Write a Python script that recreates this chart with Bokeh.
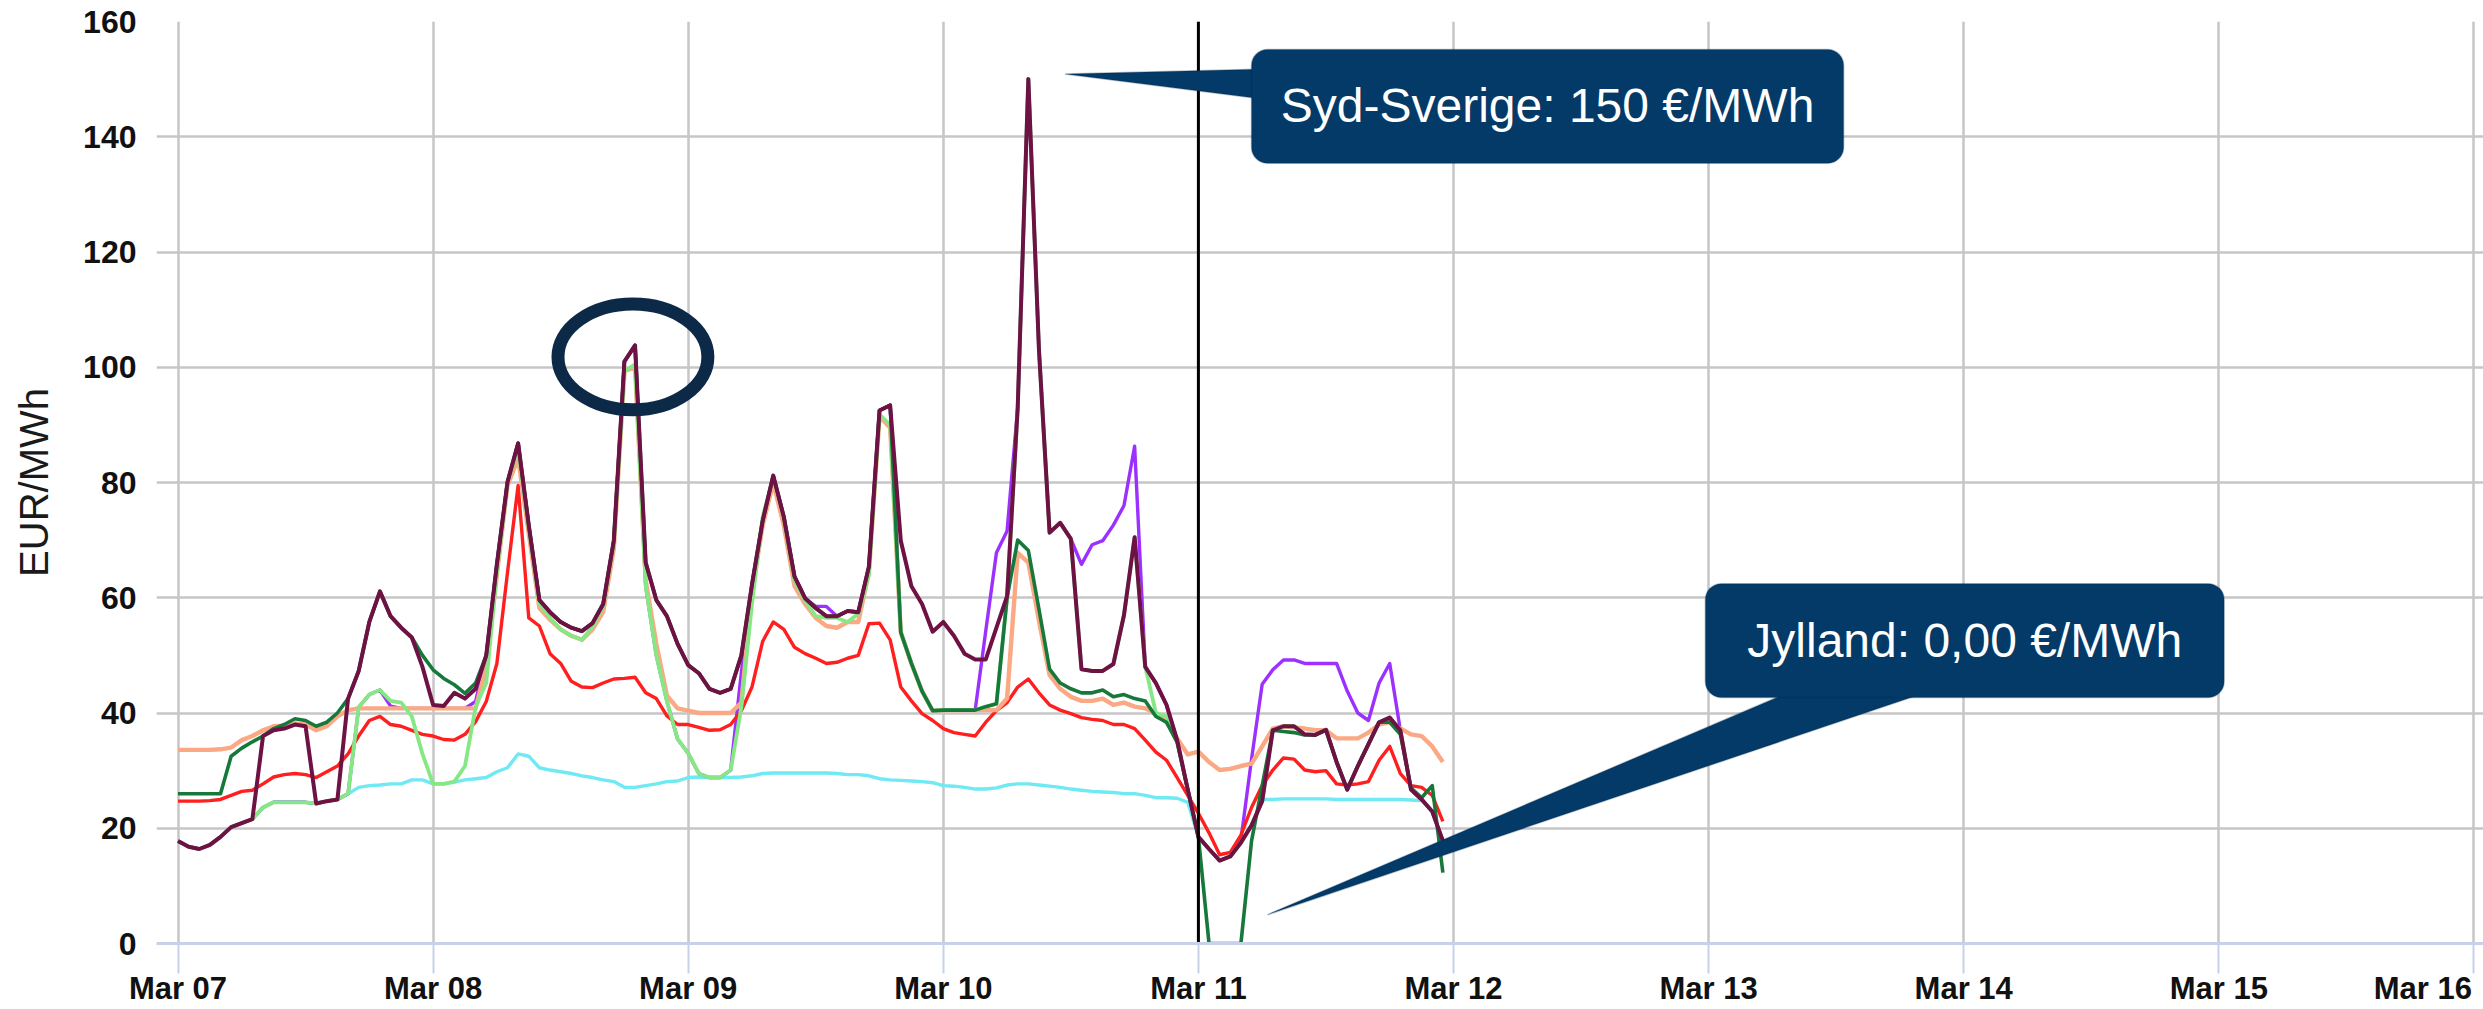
import numpy as np
import pandas as pd
from bokeh.plotting import figure
from bokeh.models import (Range1d, FixedTicker, CustomJSTickFormatter, BoxAnnotation,
                          PolyAnnotation, Label, ColumnDataSource)
from bokeh.embed import file_html
from bokeh.resources import INLINE

# ---------------- data (hourly, 2023-03-07 00:00 .. 2023-03-11 23:00) ----------------
START = "2023-03-07 00:00"
N_HOURS = 120

peach = [33.6, 33.6, 33.6, 33.6, 33.7, 34.0, 35.3, 36.0, 37.0, 37.7,
         37.8, 38.2, 38.0, 37.0, 37.7, 39.4, 40.5, 40.8, 40.8, 40.8,
         40.8, 40.8, 40.8, 40.8, 40.8, 40.8, 40.8, 40.8, 40.8, 48.0,
         64.0, 79.5, 84.2, 71.2, 58.2, 56.2, 54.5, 53.4, 52.7, 54.5,
         57.5, 68.5, 99.3, 100.0, 63.0, 52.0, 43.0, 40.8, 40.4, 40.0,
         40.0, 40.0, 40.0, 41.8, 61.0, 72.5, 80.0, 72.5, 62.0, 58.9,
         56.5, 55.1, 54.8, 55.8, 55.8, 64.4, 91.5, 89.5, 54.0, 48.6,
         43.8, 40.4, 40.5, 40.5, 40.5, 40.5, 40.5, 40.5, 42.5, 67.8,
         66.1, 56.0, 46.6, 44.2, 42.8, 42.1, 42.1, 42.5, 41.4, 41.8,
         41.1, 40.8, 40.0, 38.4, 35.6, 32.8, 33.3, 31.5, 30.1, 30.3,
         30.8, 31.2, 34.2, 37.3, 37.7, 37.5, 37.3, 37.0, 37.0, 35.6,
         35.6, 35.6, 36.6, 38.0, 38.4, 37.3, 36.3, 36.0, 34.2, 31.5]

jylland = [26.0, 26.0, 26.0, 26.0, 26.0, 32.5, 33.9, 35.0, 36.0, 37.3,
           38.0, 39.0, 38.7, 37.7, 38.4, 40.0, 42.5, 47.3, 55.8, 61.1,
           56.8, 54.8, 53.1, 50.0, 47.5, 46.0, 44.9, 43.4, 45.2, 50.0,
           65.8, 80.1, 86.8, 72.6, 59.6, 57.5, 55.8, 54.8, 54.2, 55.6,
           58.9, 69.9, 101.0, 103.8, 66.1, 59.6, 56.8, 52.0, 48.3, 46.9,
           44.2, 43.5, 44.2, 50.0, 62.3, 73.3, 81.2, 74.0, 63.7, 59.9,
           58.2, 56.8, 56.8, 57.7, 57.5, 65.4, 92.5, 93.4, 54.0, 48.6,
           43.8, 40.4, 40.5, 40.5, 40.5, 40.5, 41.1, 41.6, 60.0, 70.0,
           68.2, 58.0, 47.6, 45.2, 44.2, 43.5, 43.5, 44.0, 42.8, 43.2,
           42.5, 42.1, 39.4, 38.4, 34.9, 26.7, 18.5, 0.0, 0.0, 0.0,
           0.0, 17.8, 27.4, 37.0, 36.8, 36.6, 36.2, 36.2, 37.0, 31.5,
           26.7, 30.8, 34.6, 38.4, 38.4, 36.3, 27.0, 25.3, 27.4, 12.3]

syd_sverige = [17.8, 16.8, 16.4, 17.1, 18.5, 20.2, 20.9, 21.6, 36.0, 37.0,
               37.3, 38.0, 37.7, 24.3, 24.7, 25.0, 42.5, 47.3, 55.8, 61.1,
               56.8, 54.8, 53.1, 48.0, 41.4, 41.2, 43.5, 42.5, 44.2, 50.0,
               65.8, 80.1, 86.8, 72.6, 59.6, 57.5, 55.8, 54.8, 54.2, 55.6,
               58.9, 69.9, 101.0, 103.8, 66.1, 59.6, 56.8, 52.0, 48.3, 46.9,
               44.2, 43.5, 44.2, 50.0, 62.3, 73.3, 81.2, 74.0, 63.7, 59.9,
               58.2, 56.8, 56.8, 57.7, 57.5, 65.4, 92.5, 93.4, 69.9, 62.0,
               58.9, 54.1, 55.8, 53.4, 50.3, 49.3, 49.3, 54.8, 60.3, 93.0,
               150.0, 103.0, 71.3, 73.0, 70.2, 47.6, 47.3, 47.3, 48.5, 57.0,
               70.5, 48.0, 45.2, 41.4, 35.3, 26.7, 18.5, 16.4, 14.4, 15.1,
               17.5, 20.5, 24.7, 37.0, 37.7, 37.7, 36.3, 36.2, 37.1, 31.5,
               26.7, 30.8, 34.6, 38.4, 39.2, 37.0, 26.7, 25.0, 22.9, 17.8]

light_green = [17.8, 16.8, 16.4, 17.1, 18.5, 20.2, 20.9, 21.6, 23.6, 24.5,
               24.5, 24.5, 24.5, 24.3, 24.7, 25.0, 26.0, 41.0, 43.2, 44.0,
               42.1, 41.8, 39.4, 32.9, 27.7, 27.7, 28.1, 30.8, 41.1, 45.2,
               64.4, 80.0, 86.0, 72.0, 59.0, 56.5, 54.5, 53.4, 52.7, 55.0,
               58.5, 69.5, 99.3, 100.5, 62.0, 50.0, 42.0, 35.5, 33.0, 29.5,
               28.8, 28.8, 30.1, 41.0, 58.9, 74.0, 81.0, 74.0, 63.0, 59.5,
               56.8, 56.5, 56.5, 55.8, 57.2, 64.0, 91.8, 90.0, 54.0, 48.6,
               43.8, 40.4, 40.5, 40.5, 40.5, 40.5, 41.1, 41.6, 60.0, 93.0,
               150.0, 103.0, 71.3, 73.0, 70.2, 47.6, 47.3, 47.3, 48.5, 57.0,
               70.5, 48.0, 40.0, 39.4, 35.0, 26.7, 18.5, 16.4, 14.4, 15.1,
               17.5, 20.5, 24.7, 37.0, 37.7, 37.7, 36.3, 36.2, 37.1, 31.5,
               26.7, 30.8, 34.6, 38.4, 39.2, 37.0, 26.7, 25.0, 22.9, 17.8]

red = [24.7, 24.7, 24.7, 24.8, 25.0, 25.7, 26.4, 26.6, 27.7, 28.9,
       29.3, 29.5, 29.3, 28.8, 29.8, 30.8, 32.9, 36.0, 38.7, 39.4,
       38.0, 37.7, 37.0, 36.3, 36.0, 35.4, 35.3, 36.3, 38.5, 42.0,
       48.6, 64.4, 79.5, 56.5, 55.1, 50.3, 48.6, 45.5, 44.5, 44.4,
       45.2, 45.9, 46.0, 46.2, 43.5, 42.5, 39.5, 38.0, 38.0, 37.5,
       37.0, 37.1, 38.0, 40.4, 44.5, 52.4, 55.8, 54.5, 51.4, 50.3,
       49.5, 48.6, 48.8, 49.5, 50.0, 55.5, 55.6, 52.7, 44.5, 42.1,
       39.9, 38.7, 37.3, 36.6, 36.3, 36.0, 38.4, 40.4, 41.8, 44.5,
       45.9, 43.5, 41.4, 40.5, 39.9, 39.2, 38.9, 38.7, 38.0, 38.0,
       37.3, 35.3, 33.2, 31.8, 28.8, 25.7, 22.6, 19.2, 15.4, 15.8,
       18.8, 23.6, 27.4, 30.1, 32.2, 32.0, 30.1, 29.8, 30.0, 27.7,
       27.5, 27.7, 28.1, 31.8, 34.2, 29.5, 27.4, 27.1, 25.7, 21.2]

cyan = [17.8, 16.8, 16.4, 17.1, 18.5, 20.2, 20.9, 21.6, 23.6, 24.5,
        24.5, 24.5, 24.5, 24.3, 24.7, 25.0, 26.0, 27.1, 27.4, 27.5,
        27.7, 27.7, 28.4, 28.4, 27.7, 27.7, 28.0, 28.4, 28.6, 28.8,
        29.8, 30.5, 32.9, 32.5, 30.5, 30.1, 29.8, 29.5, 29.1, 28.8,
        28.4, 28.1, 27.1, 27.1, 27.4, 27.7, 28.1, 28.2, 28.8, 28.9,
        28.8, 28.8, 28.8, 28.9, 29.1, 29.5, 29.6, 29.6, 29.6, 29.6,
        29.6, 29.6, 29.5, 29.3, 29.3, 29.1, 28.6, 28.4, 28.3, 28.2,
        28.1, 27.9, 27.4, 27.3, 27.1, 26.8, 26.8, 27.0, 27.5, 27.7,
        27.7, 27.5, 27.3, 27.1, 26.8, 26.6, 26.4, 26.3, 26.2, 26.0,
        26.0, 25.7, 25.3, 25.3, 25.2, 24.5, 18.5, 16.4, 14.4, 15.1,
        17.5, 20.5, 25.0, 25.0, 25.1, 25.1, 25.1, 25.1, 25.1, 25.0,
        25.0, 25.0, 25.0, 25.0, 25.0, 25.0, 24.9, 24.8, float("nan"), float("nan")]

purple = [17.8, 16.8, 16.4, 17.1, 18.5, 20.2, 20.9, 21.6, 23.6, 24.5,
          24.5, 24.5, 24.5, 24.3, 24.7, 25.0, 26.0, 41.0, 43.2, 44.0,
          41.2, 40.8, 40.8, 40.8, 40.8, 40.8, 40.8, 40.8, 42.0, 50.0,
          65.8, 80.1, 86.8, 72.6, 59.6, 57.5, 55.8, 54.8, 54.2, 55.6,
          58.9, 69.9, 101.0, 103.8, 62.0, 50.0, 42.0, 35.5, 33.0, 29.5,
          28.8, 28.8, 30.1, 47.0, 62.3, 73.3, 81.2, 74.0, 63.7, 59.9,
          58.5, 58.5, 56.8, 57.7, 57.5, 65.4, 92.5, 93.4, 54.0, 48.6,
          43.8, 40.4, 40.5, 40.5, 40.5, 40.5, 54.3, 67.8, 71.6, 93.0,
          150.0, 103.0, 71.3, 73.0, 70.2, 65.8, 69.2, 69.9, 72.6, 76.0,
          86.3, 48.0, 45.2, 41.4, 35.3, 26.7, 18.5, 16.4, 14.4, 15.1,
          18.0, 32.0, 45.0, 47.5, 49.2, 49.2, 48.6, 48.6, 48.6, 48.6,
          43.8, 40.0, 38.7, 45.2, 48.6, 37.0, 26.7, 25.0, 22.9, 17.8]

tick_days = ["2023-03-07", "2023-03-08", "2023-03-09", "2023-03-10", "2023-03-11",
             "2023-03-12", "2023-03-13", "2023-03-14", "2023-03-15", "2023-03-16"]
tick_labels = ["Mar 07", "Mar 08", "Mar 09", "Mar 10", "Mar 11",
               "Mar 12", "Mar 13", "Mar 14", "Mar 15", "Mar 16"]
y_ticks = [0, 20, 40, 60, 80, 100, 120, 140, 160]
Y_MIN, Y_MAX = 0, 160
y_title = "EUR/MWh"
now_marker = "2023-03-11"

callout_1_text = "Syd-Sverige: 150 €/MWh"
callout_2_text = "Jylland: 0,00 €/MWh"

# ---------------- layout (pixels) ----------------
FIG_W, FIG_H = 2483, 1008
BORDER_LEFT, BORDER_TOP = 156, 21
FRAME_H = 925
BORDER_BOTTOM = FIG_H - BORDER_TOP - FRAME_H
PX_PER_HOUR = 255.1 / 24.0
FRAME_W = FIG_W - BORDER_LEFT
LAST_LABEL_SHIFT_PX = -51          # last date label is pulled inside the chart

# annotation geometry (hours after START, price units)
ELLIPSE = dict(h=42.8, v=101.8, w_h=14.1, h_v=18.35)
BOX_1 = dict(left=101.0, right=156.7, bottom=135.4, top=155.15)
TAIL_1 = [(83.45, 150.9), (101.5, 151.7), (101.5, 146.7)]
TEXT_1 = (128.85, 145.4)
BOX_2 = dict(left=143.7, right=192.5, bottom=42.7, top=62.45)
TAIL_2 = [(151.2, 43.3), (164.0, 43.3), (102.5, 5.0)]
TEXT_2 = (168.1, 52.5)

# ---------------- styling ----------------
C_PEACH = "#fba984"
C_DKGREEN = "#17783c"
C_MAROON = "#6e1244"
C_LTGREEN = "#86e884"
C_RED = "#ff1f1f"
C_CYAN = "#6fe9f3"
C_PURPLE = "#9b30ff"
NAVY = "#033a68"
NAVY_EDGE = "#02294c"
ELLIPSE_C = "#0c2a48"
GRID_C = "#c6c6c6"
AXIS_C = "#c5d2ea"
TEXT_C = "#111111"

START_TS = pd.Timestamp(START)
HOUR_MS = 3600 * 1000.0


def hx(h):
    return (START_TS.value / 1e6) + h * HOUR_MS


def day_ms(d):
    return pd.Timestamp(d).value / 1e6


times = pd.date_range(START, periods=N_HOURS, freq="h")

src = ColumnDataSource(dict(
    t=times,
    peach=np.array(peach, dtype=float),
    jylland=np.array(jylland, dtype=float),
    syd_sverige=np.array(syd_sverige, dtype=float),
    light_green=np.array(light_green, dtype=float),
    red=np.array(red, dtype=float),
    cyan=np.array(cyan, dtype=float),
    purple=np.array(purple, dtype=float),
))

x_start = hx(-21.5 / PX_PER_HOUR)
x_end = x_start + FRAME_W / PX_PER_HOUR * HOUR_MS

p = figure(width=FIG_W, height=FIG_H, x_axis_type="datetime", output_backend="svg",
           toolbar_location=None, title=None,
           x_range=Range1d(x_start, x_end), y_range=Range1d(Y_MIN, Y_MAX),
           min_border_left=BORDER_LEFT, min_border_right=0, min_border_top=BORDER_TOP,
           min_border_bottom=BORDER_BOTTOM)
p.outline_line_color = None
p.background_fill_color = "white"
p.border_fill_color = "white"

tick_ms = [day_ms(d) for d in tick_days]
label_pos = tick_ms[:-1] + [tick_ms[-1] + LAST_LABEL_SHIFT_PX / PX_PER_HOUR * HOUR_MS]

# x axis: labels on (major) label positions, day ticks drawn as minor ticks
p.xaxis.ticker = FixedTicker(ticks=label_pos, minor_ticks=tick_ms)
p.xaxis.formatter = CustomJSTickFormatter(args=dict(pos=label_pos, labels=tick_labels), code="""
    let best = 0, bd = Infinity;
    for (let i = 0; i < pos.length; i++) {
        const d = Math.abs(pos[i] - tick);
        if (d < bd) { bd = d; best = i; }
    }
    return labels[best];
""")
p.xaxis.axis_line_color = AXIS_C
p.xaxis.axis_line_width = 3
p.xaxis.major_tick_line_color = None
p.xaxis.major_tick_out = 30
p.xaxis.major_tick_in = 0
p.xaxis.minor_tick_line_color = AXIS_C
p.xaxis.minor_tick_line_width = 2
p.xaxis.minor_tick_out = 30
p.xaxis.minor_tick_in = 0
p.xaxis.major_label_standoff = -3
p.xaxis.major_label_text_font = "Liberation Sans"
p.xaxis.major_label_text_font_style = "bold"
p.xaxis.major_label_text_font_size = "31px"
p.xaxis.major_label_text_color = TEXT_C
p.xgrid.ticker = FixedTicker(ticks=tick_ms)
p.xgrid.grid_line_color = GRID_C
p.xgrid.grid_line_width = 2.5

# y axis
p.yaxis.ticker = FixedTicker(ticks=y_ticks)
p.yaxis.axis_line_color = None
p.yaxis.major_tick_line_color = None
p.yaxis.minor_tick_line_color = None
p.yaxis.major_tick_out = 0
p.yaxis.major_tick_in = 0
p.yaxis.major_label_standoff = 20
p.yaxis.major_label_text_font = "Liberation Sans"
p.yaxis.major_label_text_font_style = "bold"
p.yaxis.major_label_text_font_size = "32px"
p.yaxis.major_label_text_color = TEXT_C
p.yaxis.axis_label = y_title
p.yaxis.axis_label_text_font = "Liberation Sans"
p.yaxis.axis_label_text_font_style = "normal"
p.yaxis.axis_label_text_font_size = "40px"
p.yaxis.axis_label_text_color = "#1a1a1a"
p.yaxis.axis_label_standoff = 24
p.ygrid.grid_line_color = GRID_C
p.ygrid.grid_line_width = 2.5

# series (bottom to top)
series = [("cyan", C_CYAN, 3.4), ("purple", C_PURPLE, 3.4), ("red", C_RED, 3.4),
          ("peach", C_PEACH, 4.4), ("light_green", C_LTGREEN, 3.8),
          ("jylland", C_DKGREEN, 3.6), ("syd_sverige", C_MAROON, 4.0)]
for col, colr, lw in series:
    p.line("t", col, source=src, line_color=colr, line_width=lw, line_join="round")

# "now" marker
p.segment(x0=[day_ms(now_marker)], y0=[Y_MIN], x1=[day_ms(now_marker)], y1=[Y_MAX],
          line_color="black", line_width=3)

# ellipse highlight
p.ellipse(x=[hx(ELLIPSE["h"])], y=[ELLIPSE["v"]], width=ELLIPSE["w_h"] * HOUR_MS,
          height=ELLIPSE["h_v"], fill_color=None, line_color=ELLIPSE_C, line_width=13)

# callout 1
p.add_layout(PolyAnnotation(xs=[hx(a) for a, b in TAIL_1], ys=[b for a, b in TAIL_1],
                            fill_color=NAVY, fill_alpha=1.0, line_color=NAVY_EDGE, line_width=1.5))
p.add_layout(BoxAnnotation(left=hx(BOX_1["left"]), right=hx(BOX_1["right"]),
                           bottom=BOX_1["bottom"], top=BOX_1["top"], border_radius=16,
                           fill_color=NAVY, fill_alpha=1.0, line_color=NAVY_EDGE, line_width=1.5))
p.add_layout(Label(x=hx(TEXT_1[0]), y=TEXT_1[1], text=callout_1_text, text_align="center",
                   text_baseline="middle", text_color="white", text_font="Liberation Sans",
                   text_font_size="48px"))

# callout 2
p.add_layout(PolyAnnotation(xs=[hx(a) for a, b in TAIL_2], ys=[b for a, b in TAIL_2],
                            fill_color=NAVY, fill_alpha=1.0, line_color=NAVY_EDGE, line_width=1.5))
p.add_layout(BoxAnnotation(left=hx(BOX_2["left"]), right=hx(BOX_2["right"]),
                           bottom=BOX_2["bottom"], top=BOX_2["top"], border_radius=16,
                           fill_color=NAVY, fill_alpha=1.0, line_color=NAVY_EDGE, line_width=1.5))
p.add_layout(Label(x=hx(TEXT_2[0]), y=TEXT_2[1], text=callout_2_text, text_align="center",
                   text_baseline="middle", text_color="white", text_font="Liberation Sans",
                   text_font_size="48px"))

open("out.html", "w").write(file_html(p, INLINE))
